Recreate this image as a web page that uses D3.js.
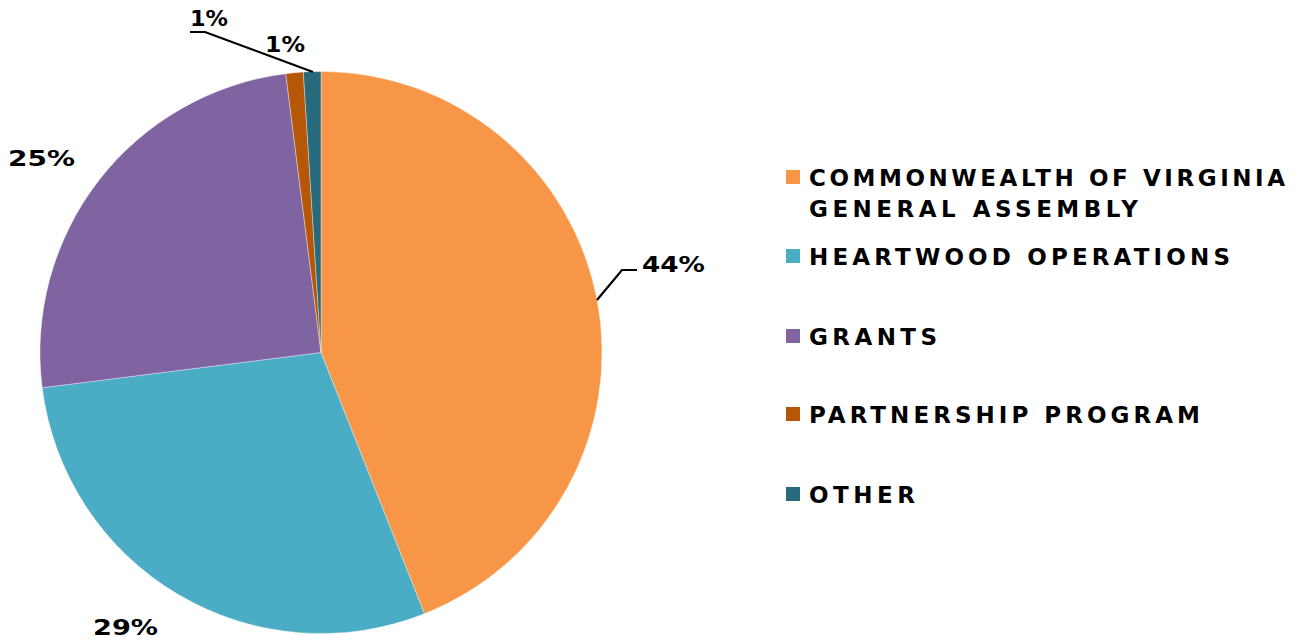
<!DOCTYPE html>
<html><head><meta charset="utf-8">
<script src="https://cdn.jsdelivr.net/npm/d3@7"></script>
<style>
html,body{margin:0;padding:0;background:#fff;}
text{font-family:"DejaVu Sans","Open Sans",sans-serif;font-weight:700;fill:#000;}
</style></head>
<body><svg id="chart" width="1303" height="641"></svg>
<script>
const categories = ["COMMONWEALTH OF VIRGINIA GENERAL ASSEMBLY","HEARTWOOD OPERATIONS","GRANTS","PARTNERSHIP PROGRAM","OTHER"];
const legendLines = [["COMMONWEALTH OF VIRGINIA","GENERAL ASSEMBLY"],["HEARTWOOD OPERATIONS"],["GRANTS"],["PARTNERSHIP PROGRAM"],["OTHER"]];
const values = [44, 29, 25, 1, 1];
const labels = ["44%","29%","25%","1%","1%"];
const colors = ["#F79646","#4BACC6","#8064A2","#B65708","#276A7C"];

const svg = d3.select("#chart");
const cx = 321, cy = 352.5, R = 281;
const g = svg.append("g").attr("transform", `translate(${cx},${cy})`);
const pie = d3.pie().sort(null).value(d => d)(values);
const arc = d3.arc().innerRadius(0).outerRadius(R);
g.selectAll("path.slice").data(pie).join("path")
  .attr("d", arc).attr("fill", (d,i) => colors[i])
  .attr("stroke", "#fff").attr("stroke-width", 0.6).attr("stroke-opacity", 0.6);

const labelPos = [
  {x: 642-cx, y: 272-cy, w: 63, line:[[597-cx,300-cy],[622-cx,270-cy],[637-cx,270-cy]]},
  {x: 93-cx, y: 635-cy, w: 65},
  {x: 8-cx, y: 166-cy, w: 67},
  {x: 190-cx, y: 26-cy, w: 38, line:[[313-cx,72-cy],[205-cx,32-cy],[190-cx,32-cy]]},
  {x: 265-cx, y: 52-cy, w: 40}
];
pie.forEach((d,i) => {
  const p = labelPos[i];
  if (p.line) {
    g.append("polyline").attr("points", p.line.map(q => q.join(",")).join(" "))
      .attr("fill","none").attr("stroke","#000").attr("stroke-width",2.2);
  }
  g.append("text").attr("x", p.x).attr("y", p.y).attr("font-size", 22)
    .attr("textLength", p.w).attr("lengthAdjust","spacingAndGlyphs").text(labels[i]);
});

const legendY = [177, 256, 336, 414, 494];
const lineWidths = [[476, 329],[421],[128],[391],[106]];
const lg = svg.append("g");
categories.forEach((c,i) => {
  lg.append("rect").attr("x", 786).attr("y", legendY[i]-7).attr("width", 14).attr("height", 14).attr("fill", colors[i]);
  legendLines[i].forEach((t,j) => {
    lg.append("text").attr("x", 809).attr("y", legendY[i] + 9 + j*31).attr("font-size", 23)
      .attr("textLength", lineWidths[i][j]).attr("lengthAdjust","spacing").text(t);
  });
});
</script></body></html>
